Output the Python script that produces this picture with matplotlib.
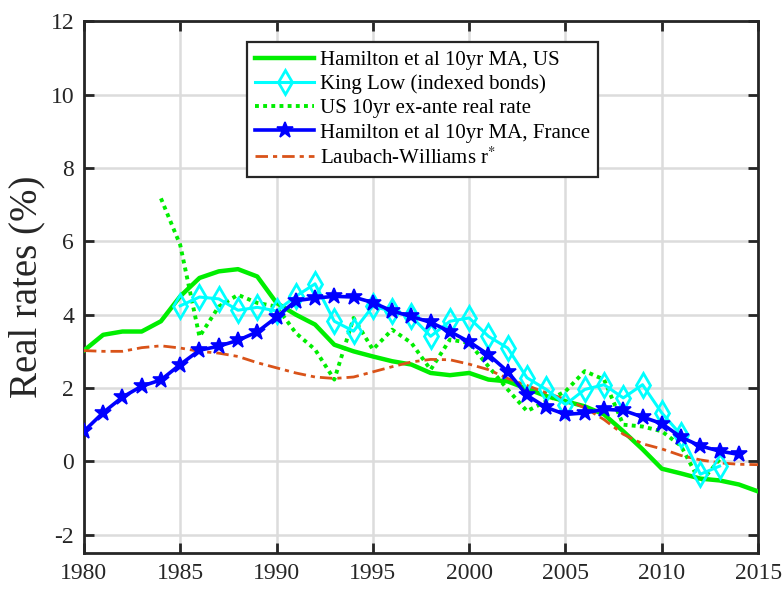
import numpy as np
import matplotlib
matplotlib.use("Agg")
import matplotlib.pyplot as plt

plt.rcParams['font.family'] = ['Liberation Serif', 'DejaVu Serif']
plt.rcParams['mathtext.fontset'] = 'stix'
plt.rcParams['axes.unicode_minus'] = False

# Hamilton et al 10yr MA, US (1980-2015)
us_years = list(range(1980, 2016))
us_hamilton = [3.02, 3.45, 3.54, 3.54, 3.82, 4.50, 5.00, 5.18, 5.24, 5.04,
               4.32, 4.00, 3.73, 3.18, 3.00, 2.86, 2.73, 2.64, 2.41, 2.35,
               2.41, 2.23, 2.18, 1.98, 1.78, 1.64, 1.50, 1.28, 0.82, 0.33,
               -0.20, -0.33, -0.47, -0.52, -0.63, -0.82]

# King Low (indexed bonds) (1985-2013)
kl_years = list(range(1985, 2014))
king_low = [4.24, 4.48, 4.43, 4.12, 4.20, 4.10, 4.50, 4.84, 3.82, 3.55,
            4.23, 4.09, 3.95, 3.41, 3.82, 3.91, 3.41, 3.09, 2.28, 1.96,
            1.55, 1.96, 2.09, 1.73, 2.09, 1.32, 0.72, -0.35, -0.13]

# US 10yr ex-ante real rate (1984-2013)
exante_years = list(range(1984, 2014))
us_exante = [7.17, 5.90, 3.40, 4.22, 4.54, 4.32, 4.22, 3.50, 3.05, 2.23,
             3.91, 3.05, 3.59, 3.23, 2.50, 3.32, 3.23, 2.59, 1.96, 1.37,
             1.64, 1.91, 2.46, 2.23, 1.00, 0.95, 0.82, 0.42, -0.58, 0.05]

# Hamilton et al 10yr MA, France (1980-2014)
fr_years = list(range(1980, 2015))
fr_hamilton = [0.82, 1.33, 1.75, 2.05, 2.22, 2.64, 3.03, 3.14, 3.30, 3.53,
               3.93, 4.38, 4.45, 4.50, 4.48, 4.33, 4.10, 3.95, 3.79, 3.54,
               3.26, 2.91, 2.45, 1.80, 1.47, 1.28, 1.32, 1.42, 1.39, 1.21,
               1.03, 0.66, 0.42, 0.28, 0.19]

# Laubach-Williams r* (1980-2015)
lw_years = list(range(1980, 2016))
lw_rstar = [3.02, 3.00, 3.00, 3.10, 3.15, 3.09, 3.00, 2.95, 2.86, 2.69,
            2.55, 2.41, 2.30, 2.26, 2.30, 2.44, 2.58, 2.71, 2.78, 2.77,
            2.65, 2.50, 2.26, 2.07, 1.87, 1.69, 1.46, 1.14, 0.74, 0.48,
            0.34, 0.16, 0.04, -0.04, -0.08, -0.09]

fig = plt.figure(figsize=(7.84, 5.89), dpi=100)
ax = fig.add_axes([0.107, 0.061, 0.86, 0.903])

ax.plot(us_years, us_hamilton, color='#00ee00', lw=3.2,
        label='Hamilton et al 10yr MA, US', zorder=3)
ax.plot(kl_years, king_low, color='cyan', lw=2.2, marker='d', ms=12,
        mfc='none', mew=2, label='King Low (indexed bonds)', zorder=4)
ax.plot(exante_years, us_exante, color='#00ee00', lw=2.8,
        linestyle=(0, (1, 1.1)), label='US 10yr ex-ante real rate', zorder=3)
ax.plot(fr_years, fr_hamilton, color='#0000ff', lw=2.6, marker='*', ms=12,
        mew=1.2, label='Hamilton et al 10yr MA, France', zorder=5)
ax.plot(lw_years, lw_rstar, color='#D95319', lw=2.0,
        linestyle=(0, (4.5, 1.8, 1.5, 1.8)),
        label='Laubach-Williams r$^{*}$', zorder=3)

ax.set_xlim(1980, 2015)
ax.set_ylim(-2.5, 12)
ax.set_xticks(range(1980, 2016, 5))
ax.set_yticks(range(-2, 13, 2))
ax.grid(True, color='#dcdcdc', lw=1.8)
ax.set_axisbelow(True)

for s in ax.spines.values():
    s.set_linewidth(2.0)
    s.set_color('#262626')
ax.tick_params(direction='in', length=7, width=2, labelsize=17,
               colors='#262626', top=True, right=True, pad=7)

ax.set_ylabel('Real rates (%)', fontsize=28, color='#262626', labelpad=4)

leg = ax.legend(loc='upper left', bbox_to_anchor=(0.242, 0.961), fontsize=15,
                handlelength=2.8, handletextpad=0.3, borderpad=0.4,
                labelspacing=0.22, fancybox=False, framealpha=1,
                edgecolor='#262626', borderaxespad=0)
leg.get_frame().set_linewidth(1.6)

fig.savefig('out.png', dpi=100)
